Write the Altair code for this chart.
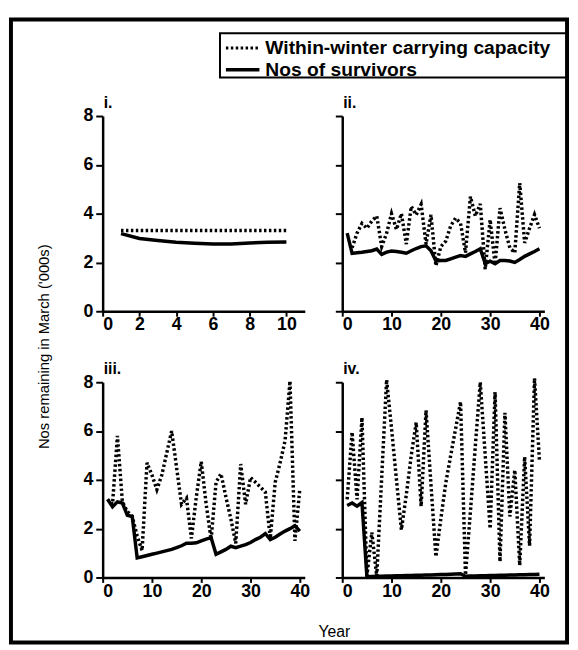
import altair as alt
import pandas as pd

series_names = ["Within-winter carrying capacity", "Nos of survivors"]
panel_labels = ["i.", "ii.", "iii.", "iv."]
x_title = "Year"
y_title = "Nos remaining in March ('000s)"
y_ticks = [0, 2, 4, 6, 8]
x_ticks_short = [0, 2, 4, 6, 8, 10]
x_ticks_long = [0, 10, 20, 30, 40]

years_i = [1, 2, 3, 4, 5, 6, 7, 8, 9, 10]
cap_i = [3.31, 3.31, 3.31, 3.31, 3.31, 3.31, 3.31, 3.31, 3.31, 3.31]
surv_i = [3.18, 2.98, 2.90, 2.83, 2.79, 2.76, 2.76, 2.80, 2.83, 2.84]

years_40 = list(range(1, 41))
years_cap_ii = list(range(2, 41))
cap_ii = [2.6, 3.2, 3.6, 3.4, 3.7, 3.9, 2.65, 3.2, 4.0, 3.35, 4.0, 2.75, 4.3, 3.95,
          4.38, 2.75, 3.95, 1.86, 2.65, 2.87, 3.5, 3.82, 3.6, 2.4, 4.7, 3.9, 4.4, 1.72, 3.75,
          1.92, 4.23, 3.35, 2.6, 2.4, 5.25, 2.8, 3.4, 3.96, 3.4]
surv_ii = [3.2, 2.37, 2.4, 2.42, 2.45, 2.48, 2.55, 2.33, 2.42, 2.47, 2.45, 2.42, 2.38, 2.48, 2.57,
           2.65, 2.68, 2.48, 2.06, 2.08, 2.08, 2.15, 2.22, 2.28, 2.25, 2.35, 2.45, 2.56, 1.95, 2.05,
           1.95, 2.08, 2.08, 2.06, 2.0, 2.12, 2.25, 2.35, 2.45, 2.56]
cap_iii = [3.2, 3.0, 5.8, 3.1, 2.7, 2.5, 1.7, 1.1, 4.7, 4.2, 3.6, 4.2, 5.1, 6.0, 4.5,
           3.0, 3.25, 1.6, 3.3, 4.75, 3.0, 1.55, 3.9, 4.25, 3.3, 2.4, 1.4, 4.65, 3.0, 4.1,
           3.9, 3.7, 3.5, 1.6, 3.9, 4.7, 5.6, 8.05, 1.5, 3.65]
surv_iii = [3.2, 2.9, 3.1, 3.05, 2.55, 2.5, 0.8, 0.85, 0.9, 0.95, 1.0, 1.05, 1.1, 1.15, 1.22,
            1.3, 1.4, 1.4, 1.42, 1.5, 1.57, 1.63, 0.95, 1.05, 1.15, 1.28, 1.22, 1.28, 1.35, 1.43,
            1.55, 1.65, 1.8, 1.55, 1.65, 1.78, 1.9, 2.0, 2.12, 1.9]
cap_iv = [3.2, 5.95, 3.2, 6.55, 0.05, 1.85, 0.05, 4.1, 8.1, 6.1, 4.0, 1.95, 3.4, 5.0, 6.35,
          2.92, 6.85, 3.8, 0.85, 2.4, 3.87, 5.0, 6.1, 7.2, 0.1, 2.7, 5.4, 8.0, 5.0, 2.0,
          7.6, 0.65, 6.75, 2.5, 4.4, 0.5, 4.94, 1.3, 8.16, 4.8]
surv_iv = [2.95, 3.05, 2.92, 3.07, 0.03, 0.04, 0.05, 0.05, 0.06, 0.06, 0.07, 0.07, 0.08, 0.08, 0.09,
           0.09, 0.1, 0.1, 0.11, 0.12, 0.12, 0.13, 0.14, 0.15, 0.05, 0.06, 0.06, 0.07, 0.07, 0.08,
           0.08, 0.09, 0.09, 0.1, 0.1, 0.11, 0.11, 0.12, 0.12, 0.13]

FONT = "Liberation Sans"
W, H = 205, 198
DOT = [2.5, 2.5]


def one():
    return pd.DataFrame({"a": [0]})


def panel(cap_years, cap, surv_years, surv, label, xmax, xticks, ylabels, extra):
    df = pd.DataFrame({
        "Year": cap_years + surv_years,
        "Value": cap + surv,
        "Series": [series_names[0]] * len(cap) + [series_names[1]] * len(surv),
    })
    x = alt.X("Year:Q", scale=alt.Scale(domain=[0, xmax], nice=False, zero=False),
              axis=alt.Axis(values=xticks, title=None, tickSize=5, labelPadding=0))
    y = alt.Y("Value:Q", scale=alt.Scale(domain=[0, 8], nice=False),
              axis=alt.Axis(values=y_ticks, title=None, labels=ylabels, tickSize=7, labelPadding=3))
    base = alt.Chart(df)
    dotted = base.transform_filter(alt.datum.Series == series_names[0]).mark_line(
        color="black", strokeWidth=3.5, strokeDash=DOT).encode(x=x, y=y)
    solid = base.transform_filter(alt.datum.Series == series_names[1]).mark_line(
        color="black", strokeWidth=3.5).encode(x=x, y=y)
    lab = alt.Chart(one()).mark_text(align="left", baseline="bottom", font=FONT, fontSize=16,
                                     fontWeight="bold", color="black").encode(
        x=alt.value(1), y=alt.value(-5), text=alt.value(label))
    return alt.layer(dotted, solid, lab, *extra).properties(width=W, height=H)


# decorations for panel i: frame and y title
frame = alt.Chart(one()).mark_rect(fillOpacity=0, stroke="black", strokeWidth=4).encode(
    x=alt.value(-93), x2=alt.value(471), y=alt.value(-98), y2=alt.value(534))
ytitle = alt.Chart(one()).mark_text(angle=270, font=FONT, fontSize=15, color="black",
                                    baseline="middle", align="center").encode(
    x=alt.value(-59), y=alt.value(234), text=alt.value(y_title))

# legend for panel ii
leg_box = alt.Chart(one()).mark_rect(fillOpacity=0, stroke="black", strokeWidth=2).encode(
    x=alt.value(-124), x2=alt.value(229), y=alt.value(-84), y2=alt.value(-39))
leg_dot = alt.Chart(one()).mark_rule(color="black", strokeWidth=3, strokeDash=DOT).encode(
    x=alt.value(-118), x2=alt.value(-84), y=alt.value(-69))
leg_sol = alt.Chart(one()).mark_rule(color="black", strokeWidth=3.5).encode(
    x=alt.value(-118), x2=alt.value(-84), y=alt.value(-47))
leg_t1 = alt.Chart(one()).mark_text(align="left", baseline="middle", font=FONT, fontSize=19.5,
                                    fontWeight="bold", color="black").encode(
    x=alt.value(-78), y=alt.value(-69), text=alt.value(series_names[0]))
leg_t2 = alt.Chart(one()).mark_text(align="left", baseline="middle", font=FONT, fontSize=19.5,
                                    fontWeight="bold", color="black").encode(
    x=alt.value(-78), y=alt.value(-47), text=alt.value(series_names[1]))

# x title on panel iii
xtitle = alt.Chart(one()).mark_text(font=FONT, fontSize=16, color="black",
                                    baseline="middle", align="center").encode(
    x=alt.value(235), y=alt.value(253), text=alt.value(x_title))

p1 = panel(years_i, cap_i, years_i, surv_i, panel_labels[0], 11, x_ticks_short, True,
           [frame, ytitle])
p2 = panel(years_cap_ii, cap_ii, years_40, surv_ii, panel_labels[1], 41, x_ticks_long, False,
           [leg_box, leg_dot, leg_sol, leg_t1, leg_t2])
p3 = panel(years_40, cap_iii, years_40, surv_iii, panel_labels[2], 41, x_ticks_long, True,
           [xtitle])
p4 = panel(years_40, cap_iv, years_40, surv_iv, panel_labels[3], 41, x_ticks_long, False, [])

chart = alt.concat(
    p1, p2, p3, p4, columns=2, spacing={"row": 72, "column": 38}, bounds="flush"
).properties(
    padding={"left": 0, "top": 4, "right": 0, "bottom": 0},
    background="white",
).configure_axis(
    domainColor="black", domainWidth=2.5, tickColor="black", tickWidth=2,
    labelFont=FONT, labelFontSize=18, labelFontWeight="bold", labelColor="black", grid=False,
).configure_view(stroke="transparent")

chart.save("out.html", embed_options={"renderer": "svg", "actions": False})
